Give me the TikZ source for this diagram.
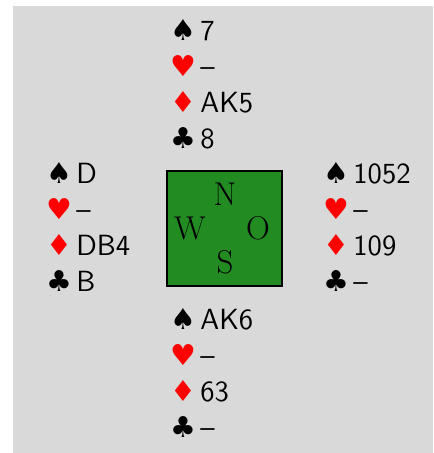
\documentclass[tikz,border=0pt]{standalone}
\usepackage{fontspec}
\usepackage{xcolor}
\newfontfamily\suitfont{DejaVu Sans}
\usetikzlibrary{positioning}
\definecolor{feltgreen}{RGB}{34,139,34}
\newcommand{\suitsize}{\fontsize{14.4}{16}\selectfont}
\newcommand{\spd}{\makebox[15pt][l]{\suitfont\suitsize ♠}}
\newcommand{\hrt}{\makebox[15pt][l]{\textcolor{red}{\suitfont\suitsize ♥}}}
\newcommand{\dmd}{\makebox[15pt][l]{\textcolor{red}{\suitfont\suitsize ♦}}}
\newcommand{\clb}{\makebox[15pt][l]{\suitfont\suitsize ♣}}

\begin{document}
\begin{tikzpicture}[x=0.5pt, y=-0.5pt,
		hand/.style={anchor=base west, inner sep=0pt, font=\sffamily\fontsize{14.6}{16}\selectfont},
		seat/.style={inner sep=0pt, font=\rmfamily\fontsize{16.5}{16}\selectfont}]
	\useasboundingbox (0,0) rectangle (433,453);
	\fill[black!15] (13,6) rectangle (433,453);
	
	% table in the middle
	\node[draw=black, line width=0.9pt, fill=feltgreen, minimum size=57.5pt, inner sep=0pt] (table) at (224.5,228.5) {};
	\node[seat] (N) at (225,194) {N};
	\node[seat] (W) at (190,228.5) {W};
	\node[seat] (O) at (258,228.5) {O};
	\node[seat] (S) at (225,262) {S};
	
	% the four hands
	\foreach \hand/\x/\y/\sp/\he/\di/\cl in {
			north/170/40.5/7/\textendash/AK5/8,
			west/46/184/D/\textendash/DB4/B,
			east/323/184/1052/\textendash/109/\textendash,
			south/170/329/AK6/\textendash/63/\textendash} {
		\node[hand] (\hand-s) at (\x,\y) {\spd\sp};
		\node[hand] (\hand-h) at (\x,\y+36) {\hrt\he};
		\node[hand] (\hand-d) at (\x,\y+72) {\dmd\di};
		\node[hand] (\hand-c) at (\x,\y+108) {\clb\cl};
	}
\end{tikzpicture}
\end{document}
